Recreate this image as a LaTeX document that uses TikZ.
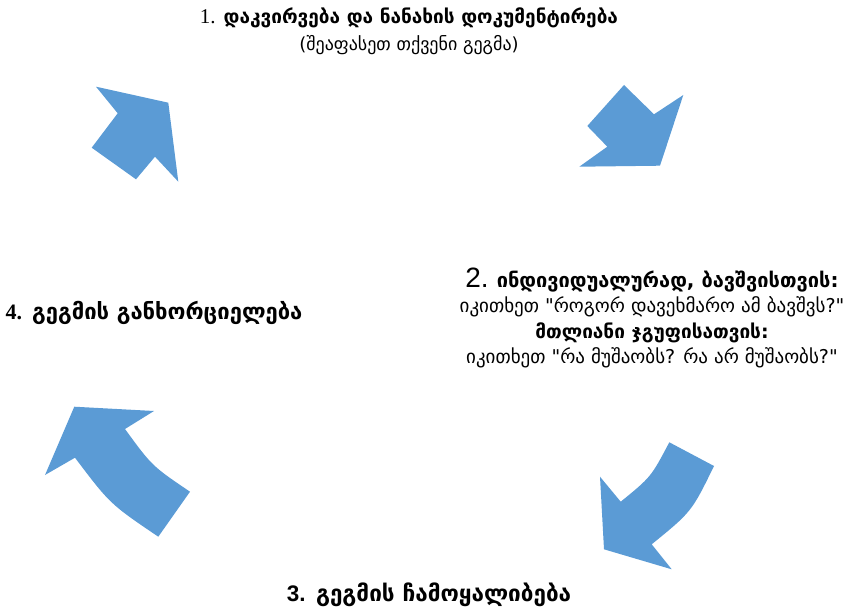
\documentclass[tikz,border=0pt]{standalone}
\usepackage{fontspec}
\setmainfont{DejaVu Sans}
\newfontfamily\geo{DejaVu Sans}
\newfontfamily\numserif{Liberation Serif}
\newfontfamily\numsans{Liberation Sans}
\usepackage{xcolor}
\usetikzlibrary{positioning}
\definecolor{cycleblue}{RGB}{91,155,213}

\begin{document}
\begin{tikzpicture}[x=1pt,y=-1pt]
\tikzstyle{every node}=[inner sep=0pt, align=center, font=\geo]
\tikzstyle{cyclearrow}=[fill=cycleblue, draw=none]
\useasboundingbox (0,0) rectangle (861,612);
% stages
\node [font=\geo\fontsize{19}{22}\selectfont] (observe) at (409,18) {{\numserif\fontsize{21}{22}\selectfont 1.} \textbf{დაკვირვება და ნანახის დოკუმენტირება}};
\node [font=\geo\fontsize{18}{20}\selectfont, below=7pt of observe] (observenote) {(შეაფასეთ თქვენი გეგმა)};
\node [font=\geo\fontsize{19}{25.5}\selectfont] (reflect) at (652,318) {{\numsans\fontsize{28}{25}\selectfont 2.} {\fontsize{20}{25.5}\selectfont\bfseries ინდივიდუალურად, ბავშვისთვის:}\\
  იკითხეთ "როგორ დავეხმარო ამ ბავშვს?"\\
  \textbf{მთლიანი ჯგუფისათვის:}\\
  იკითხეთ "რა მუშაობს? რა არ მუშაობს?"};
\node [font=\geo\fontsize{22.5}{24}\selectfont\bfseries] (plan) at (429,595) {{\numsans 3.} გეგმის ჩამოყალიბება};
\node [font=\geo\fontsize{22}{24}\selectfont\bfseries] (implement) at (154,313) {{\numserif 4.} გეგმის განხორციელება};
% arrows
\fill [cyclearrow] (96,86.7) -- (168.3,102.7) -- (178.3,181.7) -- (155,156.7) -- (136,179.3) -- (91.7,147.7) -- (117.7,113.3) -- cycle;
\fill [cyclearrow] (624,85) -- (654,114.3) -- (683.3,95) -- (660,165.7) -- (579.3,166.7) -- (607.3,146.7) -- (587.3,126) -- cycle;
\fill [cyclearrow] (669.3,442.3) -- (714,466) .. controls (691.6,511.8) .. (651.7,544.3) -- (671.7,569.3) -- (604,549.3) -- (600,476.7) -- (620.7,501.7) .. controls (651,477) .. cycle;
\fill [cyclearrow] (74.3,406.7) -- (154,411) -- (125,429) .. controls (152,466) .. (190,491.7) -- (158.3,536.7) .. controls (110,504) .. (75,457.7) -- (45,475) -- cycle;
\end{tikzpicture}
\end{document}
